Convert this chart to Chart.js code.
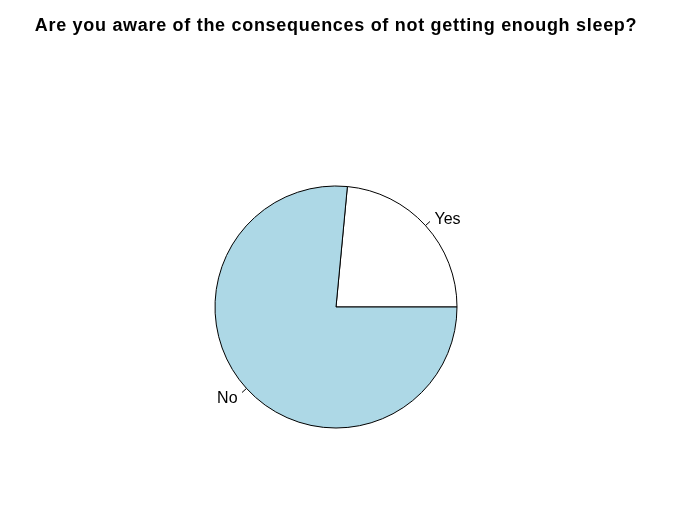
<!DOCTYPE html>
<html>
<head>
<meta charset="utf-8">
<script src="https://cdn.jsdelivr.net/npm/chart.js@4/dist/chart.umd.min.js"></script>
<style>
  body { margin: 0; background: #fff; }
  #wrap { width: 688px; height: 517px; }
</style>
</head>
<body>
<div id="wrap"><canvas id="pie" width="688" height="517"></canvas></div>
<script>
const title = 'Are you aware of the consequences of not getting enough sleep?';
const categories = ['Yes', 'No'];
const values = [23.5, 76.5];
const colors = ['#ffffff', '#add8e6'];

const total = values.reduce((a, b) => a + b, 0);
// R draws counter-clockwise from 3 o'clock; Chart.js goes clockwise from 12,
// so start the first slice where R's first slice would end
const rotation = 90 - 360 * values[0] / total;

const pieLabels = {
  id: 'pieLabels',
  afterDatasetsDraw(chart) {
    const ctx = chart.ctx;
    const arcs = chart.getDatasetMeta(0).data;
    ctx.save();
    ctx.font = '16px "Liberation Sans", Arial, sans-serif';
    ctx.fillStyle = '#000';
    ctx.strokeStyle = '#000';
    ctx.lineWidth = 1;
    ctx.textBaseline = 'middle';
    arcs.forEach((arc, i) => {
      const { x, y, startAngle, endAngle, outerRadius } = arc.getProps(['x', 'y', 'startAngle', 'endAngle', 'outerRadius'], true);
      const mid = (startAngle + endAngle) / 2;
      const c = Math.cos(mid), s = Math.sin(mid);
      ctx.beginPath();
      ctx.moveTo(x + outerRadius * c, y + outerRadius * s);
      ctx.lineTo(x + outerRadius * 1.05 * c, y + outerRadius * 1.05 * s);
      ctx.stroke();
      ctx.textAlign = c >= 0 ? 'left' : 'right';
      ctx.fillText(categories[i], x + outerRadius * 1.1 * c, y + outerRadius * 1.1 * s + 2);
    });
    ctx.restore();
  }
};

const mainTitle = {
  id: 'mainTitle',
  afterDraw(chart) {
    const ctx = chart.ctx;
    ctx.save();
    ctx.font = 'bold 18px "Liberation Sans", Arial, sans-serif';
    ctx.letterSpacing = '0.7px';
    ctx.fillStyle = '#000';
    ctx.textAlign = 'center';
    ctx.textBaseline = 'middle';
    ctx.fillText(title, 336, 26);
    ctx.restore();
  }
};

new Chart(document.getElementById('pie'), {
  type: 'pie',
  data: {
    labels: categories,
    datasets: [{
      data: values,
      backgroundColor: colors,
      borderColor: '#000',
      borderWidth: 1
    }]
  },
  options: {
    responsive: false,
    animation: false,
    rotation: rotation,
    radius: 121,
    layout: { padding: { left: 0, right: 16, top: 97, bottom: 0 } },
    plugins: {
      legend: { display: false },
      tooltip: { enabled: false },
      title: { display: false }
    }
  },
  plugins: [pieLabels, mainTitle]
});
</script>
</body>
</html>
